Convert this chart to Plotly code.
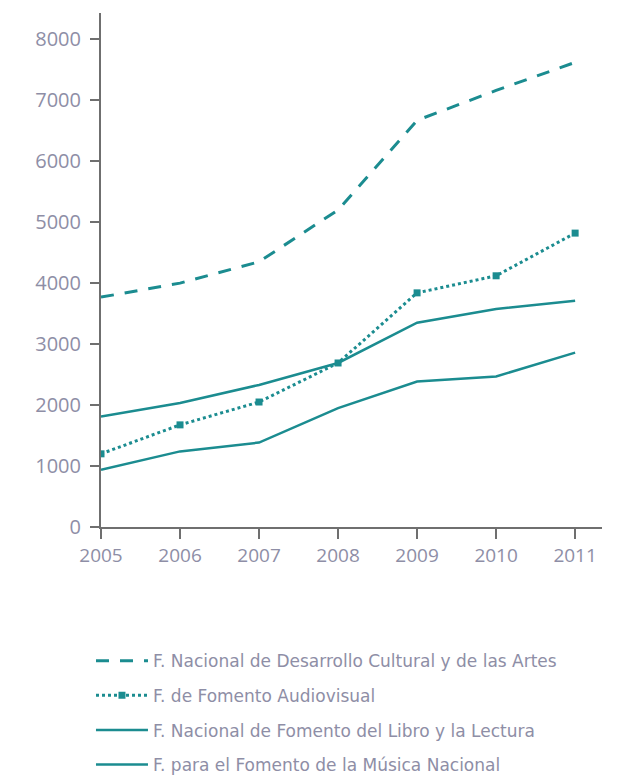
import plotly.graph_objects as go

years = [2005, 2006, 2007, 2008, 2009, 2010, 2011]
desarrollo = [3770, 4000, 4350, 5200, 6670, 7160, 7620]
audiovisual = [1200, 1675, 2050, 2690, 3840, 4120, 4820]
libro = [1810, 2035, 2330, 2690, 3350, 3575, 3710]
musica = [940, 1240, 1385, 1950, 2385, 2470, 2860]
y_ticks = [0, 1000, 2000, 3000, 4000, 5000, 6000, 7000, 8000]

names = [
    "F. Nacional de Desarrollo Cultural y de las Artes",
    "F. de Fomento Audiovisual",
    "F. Nacional de Fomento del Libro y la Lectura",
    "F. para el Fomento de la Música Nacional",
]

teal = "#1b8c90"
gray_text = "#8e8ea6"
axis_col = "#6f6f6f"

fig = go.Figure()
fig.add_trace(go.Scatter(x=years, y=desarrollo, name=names[0], mode="lines",
                         line=dict(color=teal, width=3, dash="13px,11px"),
                         legendgroup="a"))
fig.add_trace(go.Scatter(x=years, y=audiovisual, name=names[1], mode="lines+markers",
                         line=dict(color=teal, width=3, dash="dot"),
                         marker=dict(symbol="square", size=7, color=teal),
                         legendgroup="b"))
fig.add_trace(go.Scatter(x=years, y=libro, name=names[2], mode="lines",
                         line=dict(color=teal, width=2.5),
                         legendgroup="c"))
fig.add_trace(go.Scatter(x=years, y=musica, name=names[3], mode="lines",
                         line=dict(color=teal, width=2.5),
                         legendgroup="d"))

fig.update_layout(
    width=619, height=775,
    margin=dict(l=93, r=25, t=4.7, b=255.7, autoexpand=False),
    paper_bgcolor="white", plot_bgcolor="white",
    font=dict(family="Open Sans", color=gray_text),
    showlegend=True,
    legend=dict(
        x=-0.02, y=-0.226, xanchor="left", yanchor="top",
        font=dict(size=17, color=gray_text, family="DejaVu Sans"),
        tracegroupgap=9.5, itemwidth=52,
        bgcolor="rgba(0,0,0,0)",
    ),
)
fig.update_xaxes(
    range=[2005, 2011.34], tickmode="array", tickvals=years,
    ticktext=[str(y) for y in years],
    showgrid=False, zeroline=False,
    showline=True, linecolor=axis_col, linewidth=2,
    ticks="outside", ticklen=10, tickwidth=2, tickcolor=axis_col,
    tickfont=dict(size=19, color=gray_text, family="Open Sans"),
)
fig.update_yaxes(
    range=[0, 8430], tickmode="array", tickvals=y_ticks,
    showgrid=False, zeroline=False,
    showline=True, linecolor=axis_col, linewidth=2,
    ticks="outside", ticklen=9, tickwidth=2, tickcolor=axis_col,
    ticklabelstandoff=5,
    tickfont=dict(size=20, color=gray_text, family="Open Sans"),
)

fig.write_html("out.html")
